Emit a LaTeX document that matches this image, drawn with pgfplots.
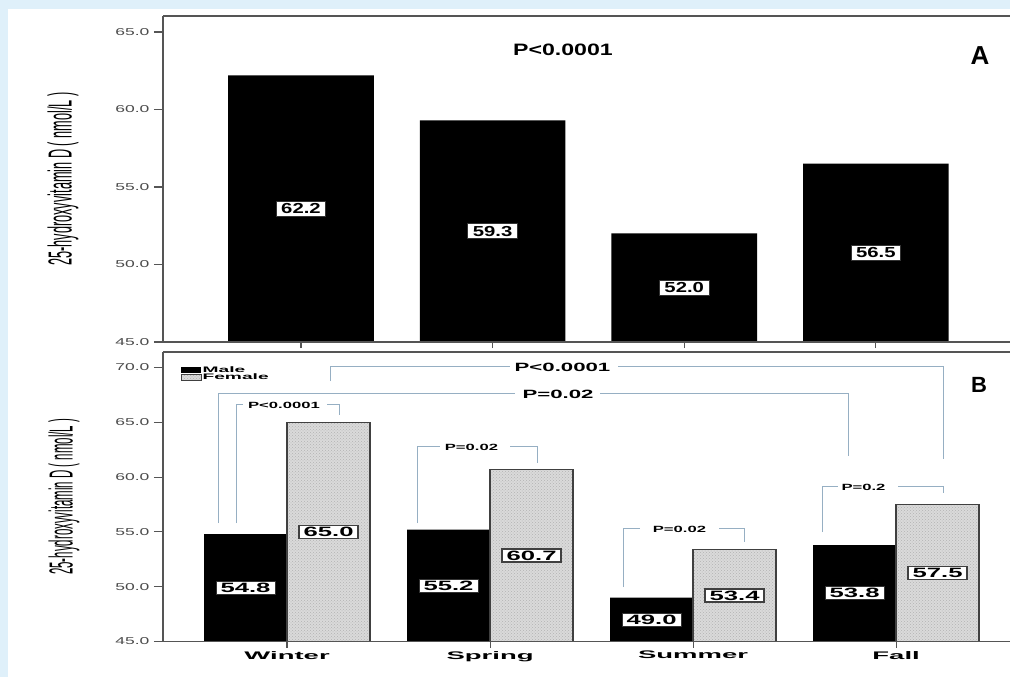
\documentclass[border=0pt]{standalone}
\usepackage{pgfplots}
\pgfplotsset{compat=1.18}
\usepackage{fontspec}
\setmainfont{Liberation Sans}
\usetikzlibrary{patterns}
\newfontfamily\fA[FakeStretch=1.4]{Liberation Sans}
\newfontfamily\fB[FakeStretch=1.85]{Liberation Sans}
\newfontfamily\fV[FakeStretch=1.9]{Liberation Sans}
\newfontfamily\fC[FakeStretch=2.5]{Liberation Sans}
\newfontfamily\fL[FakeStretch=2.4]{Liberation Sans}
\newfontfamily\fT[FakeStretch=1.75]{Liberation Sans}
\newfontfamily\fYa[FakeStretch=0.82]{Liberation Sans}
\newfontfamily\fYb[FakeStretch=0.74]{Liberation Sans}
\definecolor{bgblue}{RGB}{223,240,250}
\definecolor{brk}{RGB}{150,175,195}
\definecolor{axc}{RGB}{85,85,85}
\definecolor{fem}{RGB}{218,218,218}
\begin{document}
\begin{tikzpicture}
\path[use as bounding box] (0,0) rectangle (1010pt,-677pt);
\fill[bgblue] (0,0) rectangle (1010pt,-677pt);
\fill[white] (8pt,-9pt) rectangle (1010pt,-677pt);

% ---------------- Panel A ----------------
\begin{axis}[
  at={(163pt,-342pt)}, anchor=south west, scale only axis,
  width=847pt, height=326pt,
  xmin=-0.72, xmax=3.70, ymin=45, ymax=66.03,
  axis line style={draw=none},
  tick align=outside, tick pos=left,
  major tick length=9pt,
  tick style={axc, line width=1.1pt},
  xtick={0,1,2,3}, xticklabels={},
  xtick style={/pgfplots/major tick length=6pt},
  ytick={45,50,55,60,65},
  /pgf/number format/.cd, fixed, fixed zerofill, precision=1, assume math mode=true,
  /pgfplots/.cd,
  yticklabel style={font=\fT\fontsize{10}{10}\selectfont, text=black!70, xshift=-1pt},
  ylabel={\scalebox{1}[2.15]{\fYa\fontsize{15.5}{15.5}\selectfont 25-hydroxyvitamin D ( nmol/L )}},
  every axis y label/.style={at={(rel axis cs:-0.118,0.5)}, rotate=90, anchor=center},
]
\addplot[ybar, bar width=0.76, bar shift=0, fill=black, draw=none]
  coordinates {(0,62.2) (1,59.3) (2,52.0) (3,56.5)};
\addplot[draw=none, mark=none, nodes near coords, point meta=explicit symbolic,
  every node near coord/.append style={anchor=center, fill=white, draw=black!80, line width=0.8pt,
    font=\fA\bfseries\fontsize{14.5}{14.5}\selectfont, inner xsep=5pt, inner ysep=2.5pt, text=black}]
  coordinates {(0,53.6)[62.2] (1,52.15)[59.3] (2,48.5)[52.0] (3,50.75)[56.5]};
\end{axis}
\draw[axc, line width=1.5pt] (163pt,-16pt) -- (163pt,-342pt);
\draw[axc, line width=1.5pt] (163pt,-16pt) -- (1010pt,-16pt);
\draw[axc, line width=1.5pt] (163pt,-342pt) -- (1010pt,-342pt);
\node[font=\fA\bfseries\fontsize{16.5}{16.5}\selectfont] at (563pt,-50pt) {P<0.0001};
\node[font=\bfseries\fontsize{26}{26}\selectfont] at (980pt,-56pt) {A};

% ---------------- Panel B ----------------
\begin{axis}[
  at={(163pt,-641.5pt)}, anchor=south west, scale only axis,
  width=847pt, height=289.5pt,
  xmin=-0.611, xmax=3.561, ymin=45, ymax=71.41,
  axis line style={draw=none},
  tick align=outside, tick pos=left,
  major tick length=9pt,
  tick style={axc, line width=1.1pt},
  xtick={0,1,2,3}, xticklabels={Winter,Spring,Summer,Fall},
  xtick style={/pgfplots/major tick length=6pt},
  xticklabel style={font=\fC\bfseries\fontsize{11}{11}\selectfont, text=black, yshift=3pt},
  ytick={45,50,55,60,65,70},
  /pgf/number format/.cd, fixed, fixed zerofill, precision=1, assume math mode=true,
  /pgfplots/.cd,
  yticklabel style={font=\fT\fontsize{10}{10}\selectfont, text=black!70, xshift=-1pt},
  ylabel={\scalebox{1}[2.15]{\fYb\fontsize{15.5}{15.5}\selectfont 25-hydroxyvitamin D ( nmol/L )}},
  every axis y label/.style={at={(rel axis cs:-0.117,0.5)}, rotate=90, anchor=center},
  legend style={at={(rel axis cs:0.021,0.955)}, anchor=north west, draw=none, fill=none,
    font=\fL\bfseries\fontsize{8}{8}\selectfont, inner sep=0pt, row sep=-2pt,
    nodes={inner sep=1pt}},
  legend cell align=left,
  legend image code/.code={\path[#1, line width=0.6pt] (0pt,-2.7pt) rectangle (20pt,2.7pt);},
]
\addplot[ybar, bar width=0.409, bar shift=-0.2045, fill=black, draw=none]
  coordinates {(0,54.8) (1,55.2) (2,49.0) (3,53.8)};
\addlegendentry{Male}
\addplot[ybar, bar width=0.409, bar shift=0.2045, fill=fem, draw=black!75, line width=1.4pt,
  postaction={pattern=crosshatch dots, pattern color=black!30}]
  coordinates {(0,65.0) (1,60.7) (2,53.4) (3,57.5)};
\addlegendentry{Female}
\addplot[draw=none, mark=none, nodes near coords, point meta=explicit symbolic, forget plot,
  every node near coord/.append style={anchor=center, fill=white, draw=black!80, line width=0.8pt,
    font=\fV\bfseries\fontsize{13.5}{13.5}\selectfont, inner xsep=4.5pt, inner ysep=1.8pt, text=black}]
  coordinates {(-0.2045,49.9)[54.8] (0.7955,50.1)[55.2] (1.7955,47.0)[49.0] (2.7955,49.4)[53.8]};
\addplot[draw=none, mark=none, nodes near coords, point meta=explicit symbolic, forget plot,
  every node near coord/.append style={anchor=center, fill=white, draw=black!75, line width=1.5pt,
    font=\fV\bfseries\fontsize{13.5}{13.5}\selectfont, inner xsep=4.5pt, inner ysep=1.8pt, text=black}]
  coordinates {(0.2045,55.0)[65.0] (1.2045,52.85)[60.7] (2.2045,49.2)[53.4] (3.2045,51.25)[57.5]};
\end{axis}
\draw[axc, line width=1.5pt] (163pt,-352pt) -- (163pt,-641.5pt);
\draw[axc, line width=1.5pt] (163pt,-352pt) -- (1010pt,-352pt);
\draw[axc, line width=1.5pt] (163pt,-641.5pt) -- (1010pt,-641.5pt);
\node[font=\bfseries\fontsize{22}{22}\selectfont] at (979pt,-385pt) {B};

% significance brackets
\begin{scope}[brk, line width=0.95pt]
\draw (330pt,-381pt) -- (330pt,-366pt) -- (510pt,-366pt);
\draw (618pt,-366pt) -- (943pt,-366pt) -- (943pt,-459pt);
\draw (218pt,-523pt) -- (218pt,-393pt) -- (515pt,-393pt);
\draw (600pt,-393pt) -- (848pt,-393pt) -- (848pt,-456pt);
\draw (236pt,-523pt) -- (236pt,-404pt) -- (243pt,-404pt);
\draw (327pt,-404pt) -- (339pt,-404pt) -- (339pt,-415pt);
\draw (417pt,-523pt) -- (417pt,-446pt) -- (440pt,-446pt);
\draw (510pt,-446pt) -- (537pt,-446pt) -- (537pt,-463pt);
\draw (623pt,-587pt) -- (623pt,-528pt) -- (640pt,-528pt);
\draw (719pt,-528pt) -- (744pt,-528pt) -- (744pt,-542pt);
\draw (822pt,-532pt) -- (822pt,-486pt) -- (838pt,-486pt);
\draw (898pt,-486pt) -- (943pt,-486pt) -- (943pt,-493pt);
\end{scope}
\node[font=\fB\bfseries\fontsize{12}{12}\selectfont] at (562.5pt,-367pt) {P<0.0001};
\node[font=\fB\bfseries\fontsize{12}{12}\selectfont] at (558pt,-394pt) {P=0.02};
\node[font=\fB\bfseries\fontsize{9}{9}\selectfont] at (284pt,-405pt) {P<0.0001};
\node[font=\fB\bfseries\fontsize{9}{9}\selectfont] at (471.5pt,-447pt) {P=0.02};
\node[font=\fB\bfseries\fontsize{9}{9}\selectfont] at (679.5pt,-529pt) {P=0.02};
\node[font=\fB\bfseries\fontsize{9}{9}\selectfont] at (863.5pt,-487pt) {P=0.2};
\end{tikzpicture}
\end{document}
